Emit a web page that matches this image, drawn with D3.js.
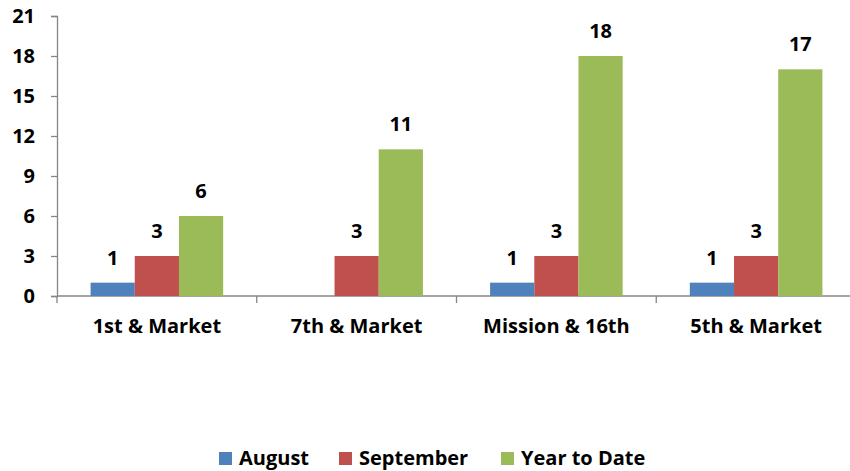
<!DOCTYPE html>
<html>
<head>
<meta charset="utf-8">
<script src="https://cdn.jsdelivr.net/npm/d3@7"></script>
<style>
  body { margin: 0; background: #fff; }
  svg text { font-family: "Open Sans", sans-serif; font-weight: bold; fill: #000; }
</style>
</head>
<body>
<svg id="chart" width="850" height="471"></svg>
<script>
// chart data
const categories = ["1st & Market", "7th & Market", "Mission & 16th", "5th & Market"];
const seriesNames = ["August", "September", "Year to Date"];
const august = [1, null, 1, 1];
const september = [3, 3, 3, 3];
const yearToDate = [6, 11, 18, 17];
const yTicks = [0, 3, 6, 9, 12, 15, 18, 21];
const colors = ["#4F81BD", "#C0504D", "#9BBB59"];

const seriesValues = [august, september, yearToDate];

class GroupedBars {
  constructor(_config) {
    this.config = {
      parentElement: _config.parentElement,
      left: 57, right: 856, top: 16, bottom: 296
    };
    this.initVis();
  }

  initVis() {
    let vis = this;
    const c = vis.config;

    vis.svg = d3.select(c.parentElement);

    vis.x = d3.scaleBand().domain(categories).range([c.left, c.right]).padding(0);
    vis.xInner = d3.scaleBand().domain(seriesNames)
      .range([0, vis.x.bandwidth()]).paddingInner(0).paddingOuter(0.76);
    vis.y = d3.scaleLinear().domain([0, 21]).range([c.bottom, c.top]);

    // y axis
    const yAxis = d3.axisLeft(vis.y).tickValues(yTicks).tickSize(6).tickPadding(16);
    const gy = vis.svg.append("g").attr("transform", `translate(${c.left},0)`).call(yAxis);
    gy.select(".domain").attr("stroke", "#868686").attr("stroke-width", 1.3);
    gy.selectAll(".tick line").attr("stroke", "#868686").attr("stroke-width", 1.3);
    gy.selectAll(".tick text").style("font-size", "20px").attr("fill", "#000");

    // x axis line and ticks on band edges
    vis.svg.append("line")
      .attr("x1", c.left).attr("x2", c.right)
      .attr("y1", c.bottom).attr("y2", c.bottom)
      .attr("stroke", "#868686").attr("stroke-width", 1.3);
    vis.svg.selectAll(".xtick")
      .data(categories.concat(["end"]))
      .join("line")
      .attr("class", "xtick")
      .attr("x1", (d, i) => c.left + i * vis.x.step())
      .attr("x2", (d, i) => c.left + i * vis.x.step())
      .attr("y1", c.bottom).attr("y2", c.bottom + 7)
      .attr("stroke", "#868686").attr("stroke-width", 1.3);

    vis.svg.selectAll(".xlabel")
      .data(categories)
      .join("text")
      .attr("class", "xlabel")
      .attr("x", d => vis.x(d) + vis.x.bandwidth() / 2)
      .attr("y", 333)
      .attr("text-anchor", "middle")
      .style("font-size", "20px")
      .text(d => d);

    // flatten to bars
    vis.bars = [];
    seriesNames.forEach((s, si) => {
      categories.forEach((cat, ci) => {
        const v = seriesValues[si][ci];
        if (v != null) vis.bars.push({ series: s, si: si, cat: cat, value: v });
      });
    });

    vis.svg.selectAll(".bar")
      .data(vis.bars)
      .join("rect")
      .attr("class", "bar")
      .attr("x", d => vis.x(d.cat) + vis.xInner(d.series))
      .attr("width", vis.xInner.bandwidth())
      .attr("y", d => vis.y(d.value))
      .attr("height", d => vis.y(0) - vis.y(d.value))
      .attr("fill", d => colors[d.si]);

    vis.svg.selectAll(".vlabel")
      .data(vis.bars)
      .join("text")
      .attr("class", "vlabel")
      .attr("x", d => vis.x(d.cat) + vis.xInner(d.series) + vis.xInner.bandwidth() / 2)
      .attr("y", d => vis.y(d.value) - 18)
      .attr("text-anchor", "middle")
      .style("font-size", "20px")
      .text(d => d.value);

    // legend
    const legendX = [219, 339, 501];
    const legend = vis.svg.selectAll(".legend")
      .data(seriesNames)
      .join("g")
      .attr("class", "legend")
      .attr("transform", (d, i) => `translate(${legendX[i]},452)`);
    legend.append("rect")
      .attr("width", 13).attr("height", 13)
      .attr("fill", (d, i) => colors[i]);
    legend.append("text")
      .attr("x", 20).attr("y", 13)
      .style("font-size", "20px")
      .text(d => d);
  }
}

new GroupedBars({ parentElement: "#chart" });
</script>
</body>
</html>
